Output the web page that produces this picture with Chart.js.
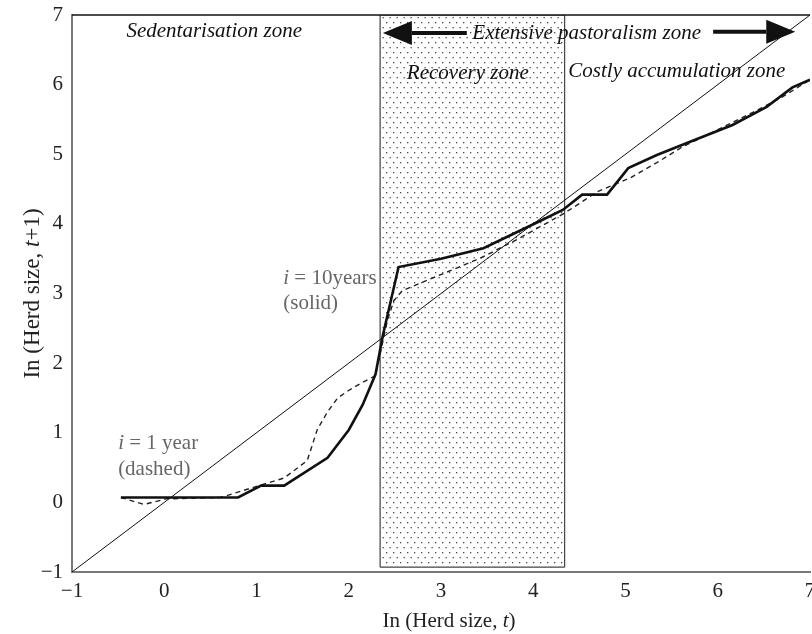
<!DOCTYPE html>
<html>
<head>
<meta charset="utf-8">
<script src="https://cdn.jsdelivr.net/npm/chart.js@4/dist/chart.umd.min.js"></script>
<style>
  html, body { margin: 0; padding: 0; background: #fff; }
  canvas { display: block; }
</style>
</head>
<body>
<canvas id="herdChart" width="812" height="634"></canvas>
<script>
// herd size dynamics, ln(t) vs ln(t+1)
const axisTicks = [-1, 0, 1, 2, 3, 4, 5, 6, 7];

// i = 10 years (solid)
const solidX = [-0.47, 0.8, 1.05, 1.3, 1.77, 2.0, 2.15, 2.29, 2.37, 2.54, 3.0, 3.46, 4.04, 4.32, 4.53, 4.8, 5.03, 5.34, 5.7, 6.16, 6.53, 6.81, 7.0];
const solidY = [0.07, 0.07, 0.24, 0.24, 0.64, 1.04, 1.4, 1.84, 2.4, 3.38, 3.5, 3.65, 4.02, 4.2, 4.42, 4.42, 4.8, 4.99, 5.18, 5.42, 5.68, 5.96, 6.07];

// i = 1 year (dashed)
const dashedX = [-0.47, -0.22, 0.02, 0.61, 1.05, 1.3, 1.55, 1.66, 1.77, 1.88, 1.99, 2.13, 2.29, 2.42, 2.49, 2.58, 3.43, 3.83, 4.32, 4.51, 4.69, 5.05, 5.34, 5.61, 6.38, 6.71, 7.0];
const dashedY = [0.07, -0.03, 0.05, 0.07, 0.25, 0.35, 0.6, 1.05, 1.3, 1.5, 1.6, 1.71, 1.82, 2.62, 2.9, 3.04, 3.51, 3.78, 4.14, 4.3, 4.46, 4.66, 4.88, 5.1, 5.6, 5.83, 6.07];

// 45 degree line
const diagX = [-1, 7];
const diagY = [-1, 7];

// recovery zone box
const zoneX = [2.34, 2.34, 4.34, 4.34];
const zoneY = [-0.93, 7, 7, -0.93];
const zoneBaseX = [2.34, 4.34];
const zoneBaseY = [-0.93, -0.93];

const toPoints = (xs, ys) => xs.map((x, i) => ({ x, y: ys[i] }));

const serif = '"Liberation Serif", "DejaVu Serif", serif';

function dotPattern() {
  const c = document.createElement('canvas');
  c.width = 7; c.height = 10;
  const g = c.getContext('2d');
  g.fillStyle = '#fff';
  g.fillRect(0, 0, 7, 10);
  g.fillStyle = '#4a4a4a';
  g.fillRect(1, 2, 1.3, 1.3);
  g.fillRect(4.5, 7, 1.3, 1.3);
  return g.createPattern(c, 'repeat');
}

// text pieces drawn one after another: [text, italic]
function drawPieces(ctx, pieces, x, y, size, color) {
  let cx = x;
  pieces.forEach(([txt, it]) => {
    ctx.font = (it ? 'italic ' : '') + size + 'px ' + serif;
    ctx.fillStyle = color;
    ctx.fillText(txt, cx, y);
    cx += ctx.measureText(txt).width;
  });
}

function piecesWidth(ctx, pieces, size) {
  return pieces.reduce((w, [txt, it]) => {
    ctx.font = (it ? 'italic ' : '') + size + 'px ' + serif;
    return w + ctx.measureText(txt).width;
  }, 0);
}

function arrow(ctx, x0, x1, y) {
  const dir = Math.sign(x1 - x0);
  const headLen = 29, half = 12;
  ctx.strokeStyle = '#111';
  ctx.fillStyle = '#111';
  ctx.lineWidth = 4;
  ctx.beginPath();
  ctx.moveTo(x0, y);
  ctx.lineTo(x1 - dir * headLen, y);
  ctx.stroke();
  ctx.beginPath();
  ctx.moveTo(x1, y);
  ctx.lineTo(x1 - dir * headLen, y - half);
  ctx.lineTo(x1 - dir * headLen, y + half);
  ctx.closePath();
  ctx.fill();
}

const annotations = {
  id: 'annotations',
  afterDraw(chart) {
    const { ctx, chartArea, scales: { x, y } } = chart;
    const px = v => x.getPixelForValue(v);
    const py = v => y.getPixelForValue(v);
    ctx.save();

    // top frame line
    ctx.strokeStyle = '#111';
    ctx.lineWidth = 1.5;
    ctx.beginPath();
    ctx.moveTo(chartArea.left, chartArea.top);
    ctx.lineTo(chartArea.right, chartArea.top);
    ctx.stroke();

    ctx.textBaseline = 'alphabetic';
    ctx.textAlign = 'left';
    const zoneSize = 21;
    drawPieces(ctx, [['Sedentarisation zone', true]], px(-0.41), py(6.69), zoneSize, '#111');
    drawPieces(ctx, [['Extensive pastoralism zone', true]], px(3.34), py(6.66), zoneSize, '#111');
    drawPieces(ctx, [['Recovery zone', true]], px(2.63), py(6.08), zoneSize, '#111');
    drawPieces(ctx, [['Costly accumulation zone', true]], px(4.38), py(6.11), zoneSize, '#111');

    arrow(ctx, px(3.28), px(2.37), py(6.74));
    arrow(ctx, px(5.95), px(6.84), py(6.76));

    const grey = '#666';
    drawPieces(ctx, [['i', true], [' = 10years', false]], px(1.29), py(3.14), 21, grey);
    drawPieces(ctx, [['(solid)', false]], px(1.29), py(2.78), 21, grey);
    drawPieces(ctx, [['i', true], [' = 1 year', false]], px(-0.5), py(0.77), 21, grey);
    drawPieces(ctx, [['(dashed)', false]], px(-0.5), py(0.39), 21, grey);

    // axis titles
    const xt = [['In (Herd size, ', false], ['t', true], [')', false]];
    const xw = piecesWidth(ctx, xt, 21);
    drawPieces(ctx, xt, 449 - xw / 2, 627, 21, '#222');

    const yt = [['In (Herd size, ', false], ['t', true], ['+1)', false]];
    const yw = piecesWidth(ctx, yt, 23);
    ctx.translate(39, (chartArea.top + chartArea.bottom) / 2);
    ctx.rotate(-Math.PI / 2);
    drawPieces(ctx, yt, -yw / 2, 0, 23, '#222');
    ctx.restore();
  }
};

const tickLabel = v => (v < 0 ? '\u2212' + Math.abs(v) : String(v));

new Chart(document.getElementById('herdChart').getContext('2d'), {
  type: 'line',
  data: {
    datasets: [
      {
        label: 'i = 10 years',
        data: toPoints(solidX, solidY),
        borderColor: '#111',
        borderWidth: 2.6,
        pointRadius: 0,
        fill: false,
        order: 0
      },
      {
        label: 'i = 1 year',
        data: toPoints(dashedX, dashedY),
        borderColor: '#222',
        borderWidth: 1.4,
        borderDash: [5, 4],
        pointRadius: 0,
        fill: false,
        order: 1
      },
      {
        label: '45 degree',
        data: toPoints(diagX, diagY),
        borderColor: '#111',
        borderWidth: 1,
        pointRadius: 0,
        fill: false,
        order: 2
      },
      {
        label: 'Recovery zone',
        data: toPoints(zoneX, zoneY),
        borderColor: '#444',
        borderWidth: 1.2,
        pointRadius: 0,
        backgroundColor: dotPattern(),
        fill: { value: -0.93 },
        order: 3
      },
      {
        label: 'Recovery zone base',
        data: toPoints(zoneBaseX, zoneBaseY),
        borderColor: '#444',
        borderWidth: 1.2,
        pointRadius: 0,
        fill: false,
        order: 2
      }
    ]
  },
  options: {
    responsive: false,
    animation: false,
    devicePixelRatio: 1,
    layout: { padding: { left: 0, top: 15, right: 2, bottom: 0 } },
    plugins: {
      legend: { display: false },
      tooltip: { enabled: false }
    },
    scales: {
      x: {
        type: 'linear',
        min: -1,
        max: 7,
        afterFit: s => { s.height = 62; s.paddingLeft = 0; s.paddingRight = 0; },
        afterBuildTicks: s => { s.ticks = axisTicks.map(v => ({ value: v })); },
        grid: { display: false, drawTicks: false },
        border: { display: true, color: '#7a7a7a', width: 2 },
        ticks: {
          padding: 7,
          color: '#222',
          font: { family: serif, size: 21 },
          callback: tickLabel,
          maxRotation: 0
        }
      },
      y: {
        type: 'linear',
        min: -1,
        max: 7,
        afterFit: s => { s.width = 72; s.paddingTop = 0; s.paddingBottom = 0; },
        afterBuildTicks: s => { s.ticks = axisTicks.map(v => ({ value: v })); },
        grid: { display: false, drawTicks: false },
        border: { display: true, color: '#7a7a7a', width: 2 },
        ticks: {
          padding: 9,
          color: '#222',
          font: { family: serif, size: 21 },
          callback: tickLabel
        }
      }
    }
  },
  plugins: [annotations]
});
</script>
</body>
</html>
